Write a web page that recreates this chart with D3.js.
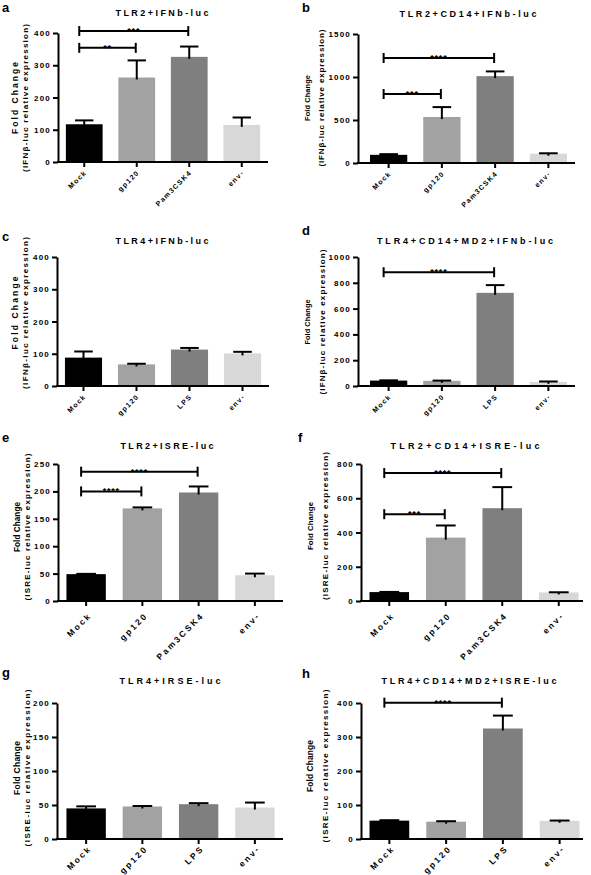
<!DOCTYPE html>
<html><head><meta charset="utf-8">
<script src="https://cdn.jsdelivr.net/npm/d3@7"></script>
<style>
body{margin:0;background:#fff}
svg{display:block}
text{font-family:"Liberation Sans",Arial,sans-serif;font-weight:bold;fill:#000}
</style>
</head><body>
<svg id="chart" width="591" height="875"></svg>
<script>
// ---------- DATA ----------
const panelLetters = ["a","b","c","d","e","f","g","h"];
const panelTitles = ["TLR2+IFNb-luc","TLR2+CD14+IFNb-luc","TLR4+IFNb-luc","TLR4+CD14+MD2+IFNb-luc",
                     "TLR2+ISRE-luc","TLR2+CD14+ISRE-luc","TLR4+IRSE-luc","TLR4+CD14+MD2+ISRE-luc"];
const yLabelMain = "Fold Change";
const yLabelIFN = "(IFNβ-luc relative expression)";
const yLabelISRE = "(ISRE-luc relative expression)";
const categoriesTLR2 = ["Mock","gp120","Pam3CSK4","env-"];
const categoriesTLR4 = ["Mock","gp120","LPS","env-"];
const barColors = ["#000000","#a2a2a2","#7f7f7f","#d8d8d8"];

const meansA = [117, 262, 326, 115];  const errorsA = [12, 53, 32, 23];
const meansB = [95, 535, 1010, 108];  const errorsB = [8, 115, 55, 5];
const meansC = [88, 67, 113, 101];    const errorsC = [19, 2, 5, 5];
const meansD = [42, 40, 722, 32];     const errorsD = [2, 2, 60, 3];
const meansE = [49, 169, 198, 47];    const errorsE = [0.5, 1.8, 11, 3];
const meansF = [52, 370, 542, 50];    const errorsF = [1, 71, 123, 1];
const meansG = [45, 47.8, 51.2, 46.3]; const errorsG = [3, 0.7, 1.5, 7.3];
const meansH = [54, 51, 325, 53.5];   const errorsH = [1.3, 1.3, 38, 0.8];

const ticksA = [0,100,200,300,400];
const ticksB = [0,500,1000,1500];
const ticksC = [0,100,200,300,400];
const ticksD = [0,200,400,600,800,1000];
const ticksE = [0,50,100,150,200,250];
const ticksF = [0,200,400,600,800];
const ticksG = [0,50,100,150,200];
const ticksH = [0,100,200,300,400];

// significance brackets: [from index, to index, level, stars]
const sigA = [[0,1,354,"**"],[0,2,406,"***"]];
const sigB = [[0,1,802,"***"],[0,2,1221,"****"]];
const sigC = [];
const sigD = [[0,2,882,"****"]];
const sigE = [[0,1,200,"****"],[0,2,236,"****"]];
const sigF = [[0,1,507,"***"],[0,2,747,"****"]];
const sigG = [];
const sigH = [[0,2,401,"****"]];

const panels = [
  {cats:categoriesTLR2, means:meansA, errs:errorsA, ticks:ticksA, sig:sigA, yl2:yLabelIFN},
  {cats:categoriesTLR2, means:meansB, errs:errorsB, ticks:ticksB, sig:sigB, yl2:yLabelIFN},
  {cats:categoriesTLR4, means:meansC, errs:errorsC, ticks:ticksC, sig:sigC, yl2:yLabelIFN},
  {cats:categoriesTLR4, means:meansD, errs:errorsD, ticks:ticksD, sig:sigD, yl2:yLabelIFN},
  {cats:categoriesTLR2, means:meansE, errs:errorsE, ticks:ticksE, sig:sigE, yl2:yLabelISRE},
  {cats:categoriesTLR2, means:meansF, errs:errorsF, ticks:ticksF, sig:sigF, yl2:yLabelISRE},
  {cats:categoriesTLR4, means:meansG, errs:errorsG, ticks:ticksG, sig:sigG, yl2:yLabelISRE},
  {cats:categoriesTLR4, means:meansH, errs:errorsH, ticks:ticksH, sig:sigH, yl2:yLabelISRE}
];

// ---------- LAYOUT ----------
const layout = [
  {x0:58, x1:268, b0:58, b1:268, yT:33, yB:162, lx:2, ly:12, tx:162, ty:16, tl:93, fx1:18, fx2:28, fcy:98, f1:72, f2:148, big:false, oy:11},
  {x0:358, x1:575, b0:362, b1:575, yT:34, yB:163, lx:302, ly:12, tx:468, ty:17, tl:137, fx1:310, fx2:324, fcy:98, f1:46, f2:137, big:false, oy:11},
  {x0:57, x1:269, b0:57, b1:269, yT:257, yB:386, lx:2, ly:241, tx:162, ty:244, tl:93, fx1:18, fx2:28, fcy:313, f1:73, f2:152, big:false, oy:11},
  {x0:358, x1:575, b0:362, b1:575, yT:257, yB:386, lx:302, ly:235, tx:465, ty:244, tl:176, fx1:310, fx2:325, fcy:322, f1:45, f2:145, big:false, oy:11},
  {x0:58, x1:283, b0:58, b1:283, yT:464, yB:601, lx:2, ly:442, tx:167, ty:449, tl:93, fx1:20, fx2:30, fcy:527, f1:50, f2:147, big:true, oy:15},
  {x0:361, x1:583, b0:361, b1:587, yT:464, yB:601, lx:298, ly:442, tx:465, ty:449, tl:149, fx1:313, fx2:328, fcy:526, f1:48, f2:148, big:true, oy:15},
  {x0:57, x1:283, b0:58, b1:283, yT:703, yB:839, lx:2, ly:677, tx:170, ty:684, tl:101, fx1:20, fx2:30, fcy:768, f1:54, f2:157, big:true, oy:10},
  {x0:361, x1:583, b0:361, b1:588, yT:703, yB:839, lx:302, ly:678, tx:469, ty:684, tl:175, fx1:313, fx2:328, fcy:766, f1:52, f2:153, big:true, oy:10}
];

const svg = d3.select("#chart");
const FONT = '"Liberation Sans",Arial,sans-serif';

panels.forEach((p, i) => {
  const L = layout[i];
  const g = svg.append("g").attr("class", "panel-" + panelLetters[i]);
  const x = d3.scaleBand().domain(p.cats).range([L.b0, L.b1]).paddingInner(0.3).paddingOuter(0.15);
  const y = d3.scaleLinear().domain([0, d3.max(p.ticks)]).range([L.yB, L.yT]);
  const bw = x.bandwidth();
  const cx = c => x(c) + bw / 2;

  // panel letter
  g.append("text").attr("x", L.lx).attr("y", L.ly).attr("font-size", 13).text(panelLetters[i]);
  // title
  g.append("text").attr("x", L.tx).attr("y", L.ty).attr("text-anchor", "middle")
    .attr("font-size", 9).attr("textLength", L.tl).attr("lengthAdjust", "spacing")
    .text(panelTitles[i]);
  // y labels
  const f1size = Math.min(8.5, L.f1 / 6.15);
  g.append("text").attr("transform", `translate(${L.fx1},${L.fcy}) rotate(-90)`)
    .attr("text-anchor", "middle").attr("font-size", f1size)
    .attr("textLength", L.f1).attr("lengthAdjust", "spacing").text(yLabelMain);
  g.append("text").attr("transform", `translate(${L.fx2},${L.fcy}) rotate(-90)`)
    .attr("text-anchor", "middle").attr("font-size", 8)
    .attr("textLength", L.f2).attr("lengthAdjust", "spacing").text(p.yl2);

  // bars
  g.selectAll("rect.bar").data(p.means).join("rect").attr("class", "bar")
    .attr("x", (d, j) => x(p.cats[j])).attr("width", bw)
    .attr("y", d => y(d)).attr("height", d => L.yB - y(d))
    .attr("fill", (d, j) => barColors[j]);

  // error bars (upper)
  const eg = g.append("g").attr("stroke", "#000").attr("stroke-width", 2);
  p.means.forEach((m, j) => {
    const c = cx(p.cats[j]);
    const top = y(m + p.errs[j]);
    eg.append("line").attr("x1", c).attr("x2", c).attr("y1", y(m) + 2).attr("y2", top);
    eg.append("line").attr("x1", c - bw / 4).attr("x2", c + bw / 4).attr("y1", top).attr("y2", top);
  });

  // y axis
  const ya = g.append("g").attr("transform", `translate(${L.x0},0)`)
    .call(d3.axisLeft(y).tickValues(p.ticks).tickFormat(d3.format("d"))
      .tickSize(5).tickSizeOuter(0).tickPadding(3));
  ya.select(".domain").attr("stroke-width", 2);
  ya.selectAll(".tick line").attr("stroke-width", 2);
  ya.selectAll(".tick text").attr("font-size", 8).attr("letter-spacing", 1.2)
    .attr("font-family", FONT).attr("font-weight", "bold").attr("dx", 1);

  // x axis
  const xa = g.append("g").attr("transform", `translate(0,${L.yB})`)
    .call(d3.axisBottom(x).tickSize(5).tickSizeOuter(0));
  xa.select(".domain").remove();
  xa.append("line").attr("x1", L.x0 - 1).attr("x2", L.x1).attr("y1", 0).attr("y2", 0)
    .attr("stroke", "#000").attr("stroke-width", 2);
  xa.selectAll(".tick line").attr("stroke-width", 2);
  const fs = L.big ? 8.5 : 7, ls = L.big ? 2.2 : 1.3;
  const ox = L.big ? 6 : 3;
  xa.selectAll(".tick text")
    .attr("font-size", fs).attr("letter-spacing", ls)
    .attr("font-family", FONT).attr("font-weight", "bold")
    .attr("text-anchor", "end").attr("x", 0).attr("y", 0).attr("dy", 0)
    .attr("transform", `translate(${ox},${L.oy}) rotate(-45)`);

  // significance brackets
  const sg = g.append("g");
  p.sig.forEach(s => {
    const xa1 = cx(p.cats[s[0]]) - 5, xb1 = cx(p.cats[s[1]]) - 1, yv = y(s[2]);
    sg.append("line").attr("x1", xa1).attr("x2", xb1).attr("y1", yv).attr("y2", yv)
      .attr("stroke", "#000").attr("stroke-width", 2);
    [xa1, xb1].forEach(xx => sg.append("line").attr("x1", xx).attr("x2", xx)
      .attr("y1", yv - 5).attr("y2", yv + 5).attr("stroke", "#000").attr("stroke-width", 2));
    sg.append("text").attr("x", (xa1 + xb1) / 2).attr("y", yv + 3)
      .attr("text-anchor", "middle").attr("font-size", 9).attr("letter-spacing", 0.8)
      .style("fill", "#000").text(s[3]);
  });
});
</script>
</body></html>
